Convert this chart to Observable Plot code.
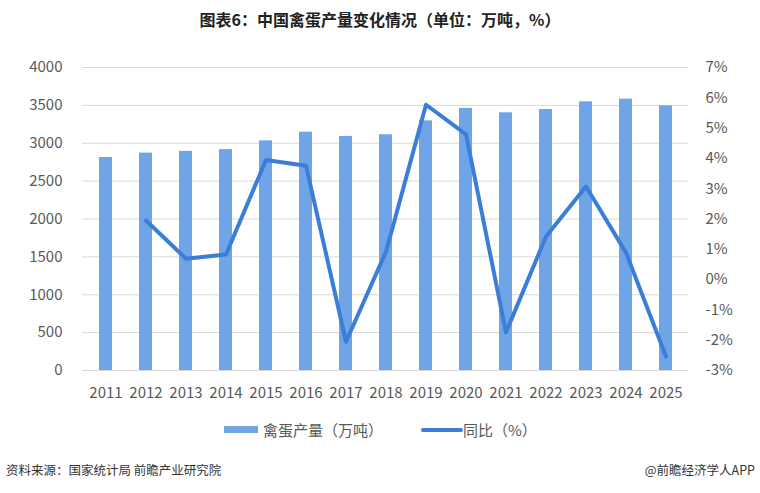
<!DOCTYPE html>
<html>
<head>
<meta charset="utf-8">
<script src="https://cdn.jsdelivr.net/npm/d3@7"></script>
<script src="https://cdn.jsdelivr.net/npm/@observablehq/plot@0.6"></script>
<style>
  body { margin: 0; background: #fff; }
  #wrap { position: relative; width: 760px; height: 493px; background: #fff; font-family: "Noto Sans CJK SC", "Noto Sans", sans-serif; overflow: hidden; }
  #title { position: absolute; top: 8px; left: 0; width: 760px; text-align: center; font-weight: bold; font-size: 16px; line-height: 22px; color: #222; }
  #chart { position: absolute; top: 40px; left: 0; }
  .leg { position: absolute; font-size: 15px; color: #595959; line-height: 20px; white-space: nowrap; }
  .foot { position: absolute; top: 461px; font-size: 12.5px; line-height: 18px; color: #333; white-space: nowrap; }
</style>
</head>
<body>
<div id="wrap">
  <div id="title">图表6：中国禽蛋产量变化情况（单位：万吨，%）</div>
  <div id="chart"></div>
  <div style="position:absolute;left:224px;top:426px;width:34px;height:7px;background:#6fa5e7"></div>
  <div class="leg" style="left:263px;top:420px">禽蛋产量（万吨）</div>
  <div style="position:absolute;left:421px;top:428px;width:42px;height:4px;border-radius:2px;background:#3b7ed9"></div>
  <div class="leg" style="left:463px;top:420px">同比（%）</div>
  <div class="foot" style="left:6px">资料来源：国家统计局 前瞻产业研究院</div>
  <div class="foot" style="right:5px">@前瞻经济学人APP</div>
</div>
<script>
const years = [2011, 2012, 2013, 2014, 2015, 2016, 2017, 2018, 2019, 2020, 2021, 2022, 2023, 2024, 2025];
const output = [2812, 2870, 2893, 2916, 3032, 3146, 3090, 3112, 3296, 3460, 3402, 3445, 3547, 3582, 3494];
const growth = [null, 1.95, 0.69, 0.83, 3.95, 3.76, -2.05, 0.92, 5.77, 4.79, -1.74, 1.42, 3.07, 0.89, -2.54];
const leftTicks = [0, 500, 1000, 1500, 2000, 2500, 3000, 3500, 4000];
const rightTicks = [-3, -2, -1, 0, 1, 2, 3, 4, 5, 6, 7];

const barColor = "#6fa5e7";
const lineColor = "#3b7ed9";
const pctMin = -3, pctMax = 7, yMax = 4000;
const toLeft = p => (p - pctMin) / (pctMax - pctMin) * yMax;

const rows = years.map((y, i) => ({year: String(y), output: output[i], growth: growth[i]}));
const lineRows = rows.filter(d => d.growth != null);

const chart = Plot.plot({
  width: 760,
  height: 380,
  marginTop: 27,
  marginBottom: 50,
  marginLeft: 82,
  marginRight: 72,
  style: {fontFamily: "'Noto Sans CJK SC', 'Noto Sans', sans-serif", fontSize: "15px", color: "#595959", background: "transparent"},
  x: {domain: years.map(String), paddingInner: 0.68, paddingOuter: 0.34, label: null},
  y: {domain: [0, yMax], label: null},
  marks: [
    Plot.ruleY(leftTicks, {stroke: "#d9d9d9", strokeWidth: 1}),
    Plot.barY(rows, {x: "year", y: "output", fill: barColor}),
    Plot.line(lineRows, {x: "year", y: d => toLeft(d.growth), stroke: lineColor, strokeWidth: 4, strokeLinejoin: "round", strokeLinecap: "round"}),
    Plot.axisY({ticks: leftTicks, tickFormat: d => String(d), tickSize: 0, tickPadding: 20, label: null, fill: "#595959"}),
    Plot.text(rightTicks, {y: toLeft, text: p => p + "%", frameAnchor: "right", textAnchor: "start", dx: 17, fill: "#595959"}),
    Plot.axisX({tickSize: 0, tickPadding: 17, label: null, fill: "#595959"})
  ]
});
document.getElementById("chart").appendChild(chart);
</script>
</body>
</html>
